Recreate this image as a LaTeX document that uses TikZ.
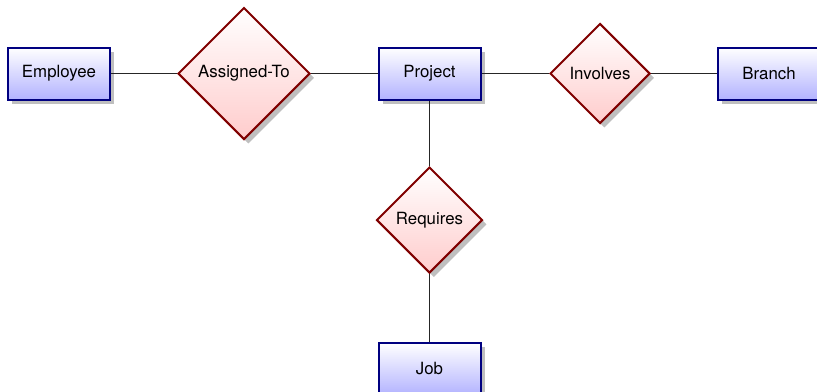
\documentclass[tikz,border=0pt]{standalone}
\usepackage{fontspec}
\setmainfont{TeX Gyre Heros}
\usetikzlibrary{shapes.geometric,shadows}
\tikzset{
  entity/.style={rectangle, draw=blue!50!black, line width=1.2pt,
    top color=white, bottom color=blue!30, drop shadow,
    minimum width=102*0.6pt, minimum height=52*0.6pt, inner sep=0pt,
    font=\fontsize{10.1}{12}\selectfont},
  relation/.style={diamond, aspect=1, draw=red!50!black, line width=1.2pt,
    top color=white, bottom color=red!20, drop shadow, inner sep=0pt,
    font=\fontsize{10.1}{12}\selectfont},
  link/.style={line width=0.7pt, black!85}
}
\begin{document}
\begin{tikzpicture}[x=0.6pt,y=-0.6pt]
\useasboundingbox (0,0) rectangle (817,391);
\node[entity] (emp) at (59,73.5) {Employee};
\node[entity] (proj) at (429.5,73.5) {Project};
\node[entity] (branch) at (769,73.5) {Branch};
\node[entity] (job) at (429.5,369) {Job};
\node[relation, minimum width=132*0.6pt, minimum height=132*0.6pt] (assg) at (244,73.5) {Assigned-To};
\node[relation, minimum width=100*0.6pt, minimum height=100*0.6pt] (inv) at (600,73.5) {Involves};
\node[relation, minimum width=106*0.6pt, minimum height=106*0.6pt] (req) at (429.5,220) {Requires};
\draw[link] (emp) -- (assg);
\draw[link] (assg) -- (proj);
\draw[link] (proj) -- (inv);
\draw[link] (inv) -- (branch);
\draw[link] (proj) -- (req);
\draw[link] (req) -- (job);
\end{tikzpicture}
\end{document}
